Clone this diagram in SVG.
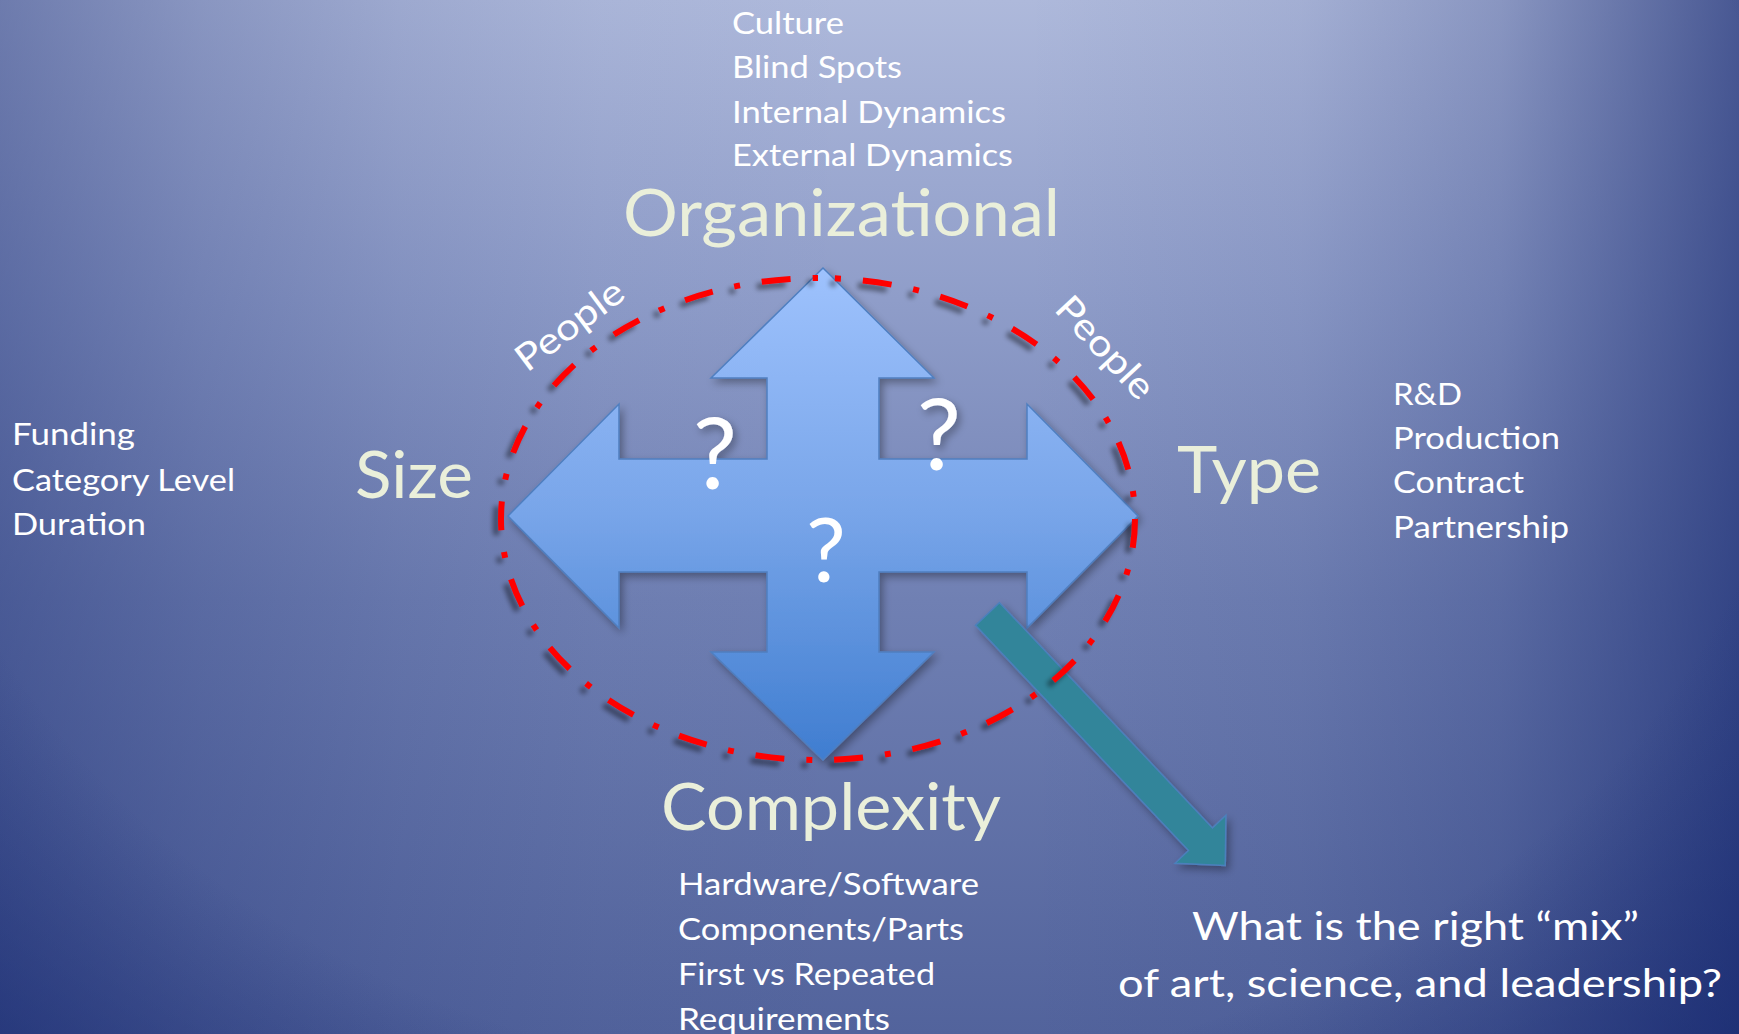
<svg xmlns="http://www.w3.org/2000/svg" width="1739" height="1034" viewBox="0 0 1739 1034">
<defs>
<linearGradient id="bgV" x1="0" y1="0" x2="0" y2="1">
<stop offset="0" stop-color="#AEB9DB"/>
<stop offset="0.29" stop-color="#8F9DC9"/>
<stop offset="0.58" stop-color="#7080B3"/>
<stop offset="1" stop-color="#52639C"/>
</linearGradient>
<linearGradient id="bgH" gradientUnits="userSpaceOnUse" x1="0" y1="0" x2="1739" y2="0">
<stop offset="0" stop-color="#14266E" stop-opacity="0.42"/>
<stop offset="0.115" stop-color="#14266E" stop-opacity="0.24"/>
<stop offset="0.23" stop-color="#14266E" stop-opacity="0.11"/>
<stop offset="0.345" stop-color="#14266E" stop-opacity="0.03"/>
<stop offset="0.49" stop-color="#14266E" stop-opacity="0"/>
<stop offset="0.59" stop-color="#14266E" stop-opacity="0"/>
<stop offset="0.748" stop-color="#14266E" stop-opacity="0.07"/>
<stop offset="0.863" stop-color="#14266E" stop-opacity="0.24"/>
<stop offset="0.932" stop-color="#14266E" stop-opacity="0.45"/>
<stop offset="1" stop-color="#14266E" stop-opacity="0.66"/>
</linearGradient>
<radialGradient id="bgVig" gradientUnits="userSpaceOnUse" cx="0" cy="0" r="1" gradientTransform="translate(850 300) scale(1265 1035)">
<stop offset="0.75" stop-color="#14266E" stop-opacity="0"/>
<stop offset="1" stop-color="#14266E" stop-opacity="0.5"/>
</radialGradient>
<linearGradient id="crossFill" x1="0" y1="0" x2="0" y2="1">
<stop offset="0" stop-color="#9EC2FD"/>
<stop offset="0.5" stop-color="#78A5E9"/>
<stop offset="1" stop-color="#3F7DD0"/>
</linearGradient>
<filter id="shadow" x="-20%" y="-20%" width="140%" height="140%">
<feGaussianBlur in="SourceAlpha" stdDeviation="4"/>
<feOffset dx="3" dy="4" result="b"/>
<feComponentTransfer><feFuncA type="linear" slope="0.35"/></feComponentTransfer>
<feMerge><feMergeNode/><feMergeNode in="SourceGraphic"/></feMerge>
</filter>
<filter id="dashShadow" x="-20%" y="-20%" width="140%" height="140%">
<feGaussianBlur in="SourceAlpha" stdDeviation="2.5"/>
<feOffset dx="-5" dy="5" result="b"/>
<feComponentTransfer><feFuncA type="linear" slope="0.45"/></feComponentTransfer>
<feMerge><feMergeNode/><feMergeNode in="SourceGraphic"/></feMerge>
</filter>
</defs>
<style>
text { font-family: Lato, "Open Sans", "Liberation Sans", sans-serif; }
.head { font-size: 66px; fill: #EAEFDA; }
.item { font-size: 31px; fill: #FFFFFF; }
.people { font-size: 37px; fill: #FFFFFF; }
.q { fill: #FFFFFF; text-anchor: middle; }
.question { font-size: 39px; fill: #FFFFFF; }
</style>

<rect x="0" y="0" width="1739" height="1034" fill="url(#bgV)"/>
<rect x="0" y="0" width="1739" height="1034" fill="url(#bgH)"/>
<rect x="0" y="0" width="1739" height="1034" fill="url(#bgVig)"/>

<g id="cross" filter="url(#shadow)">
<polygon points="823,268 934,378 879,378 879,459 1027,459 1027,404 1138,516 1027,628 1027,572 879,572 879,652 934,652 823,760 711,652 767,652 767,572 619,572 619,628 508,516 619,404 619,459 767,459 767,378 711,378" fill="url(#crossFill)" stroke="#4F7FC0" stroke-width="1.5" stroke-linejoin="miter"/>
<text class="q" x="715" y="489" font-size="99">?</text>
<text class="q" x="939" y="470" font-size="99">?</text>
<text class="q" x="826" y="582" font-size="89">?</text>
</g>

<g id="connectors">
<g id="teal-arrow" filter="url(#shadow)">
<polygon transform="translate(987.5 614) rotate(46.6)" points="0,-16.5 310,-16.5 310,-35 346,0 310,35 310,16.5 0,16.5" fill="#30859A" stroke="#4C80BC" stroke-width="1.5"/>
</g>
</g>

<g id="people-ring" filter="url(#dashShadow)">
<path d="M 818 278 A 317 241 0 0 1 818 760 A 317 241 0 0 1 818 278 Z" fill="none" stroke="#FF0000" stroke-width="6" stroke-dasharray="29 22 6 22" stroke-dashoffset="34"/>
</g>

<g id="people-left">
<text class="people" transform="translate(527 373) rotate(-37)" x="0" y="0" textLength="126" lengthAdjust="spacingAndGlyphs">People</text>
</g>
<g id="people-right">
<text class="people" transform="translate(1053 310) rotate(47)" x="0" y="0" textLength="126" lengthAdjust="spacingAndGlyphs">People</text>
</g>

<g id="organizational">
<text class="item" x="732" y="34" textLength="112" lengthAdjust="spacingAndGlyphs">Culture</text>
<text class="item" x="732" y="78" textLength="170" lengthAdjust="spacingAndGlyphs">Blind Spots</text>
<text class="item" x="732" y="123" textLength="274" lengthAdjust="spacingAndGlyphs">Internal Dynamics</text>
<text class="item" x="732" y="166" textLength="281" lengthAdjust="spacingAndGlyphs">External Dynamics</text>
<text class="head" x="623" y="236" textLength="437" lengthAdjust="spacingAndGlyphs">Organizational</text>
</g>

<g id="size">
<text class="item" x="12" y="445" textLength="123" lengthAdjust="spacingAndGlyphs">Funding</text>
<text class="item" x="12" y="491" textLength="223" lengthAdjust="spacingAndGlyphs">Category Level</text>
<text class="item" x="12" y="535" textLength="134" lengthAdjust="spacingAndGlyphs">Duration</text>
<text class="head" x="355" y="498" textLength="118" lengthAdjust="spacingAndGlyphs">Size</text>
</g>

<g id="type">
<text class="head" x="1177" y="493" textLength="144" lengthAdjust="spacingAndGlyphs">Type</text>
<text class="item" x="1393" y="405" textLength="69" lengthAdjust="spacingAndGlyphs">R&amp;D</text>
<text class="item" x="1393" y="449" textLength="167" lengthAdjust="spacingAndGlyphs">Production</text>
<text class="item" x="1393" y="493" textLength="131" lengthAdjust="spacingAndGlyphs">Contract</text>
<text class="item" x="1393" y="538" textLength="176" lengthAdjust="spacingAndGlyphs">Partnership</text>
</g>

<g id="complexity">
<text class="head" x="661" y="830" textLength="340" lengthAdjust="spacingAndGlyphs">Complexity</text>
<text class="item" x="678" y="895" textLength="301" lengthAdjust="spacingAndGlyphs">Hardware/Software</text>
<text class="item" x="678" y="940" textLength="286" lengthAdjust="spacingAndGlyphs">Components/Parts</text>
<text class="item" x="678" y="985" textLength="257" lengthAdjust="spacingAndGlyphs">First vs Repeated</text>
<text class="item" x="678" y="1030" textLength="212" lengthAdjust="spacingAndGlyphs">Requirements</text>
</g>

<g id="question">
<text class="question" x="1192" y="940" textLength="447" lengthAdjust="spacingAndGlyphs">What is the right “mix”</text>
<text class="question" x="1118" y="997" textLength="604" lengthAdjust="spacingAndGlyphs">of art, science, and leadership?</text>
</g>
</svg>
